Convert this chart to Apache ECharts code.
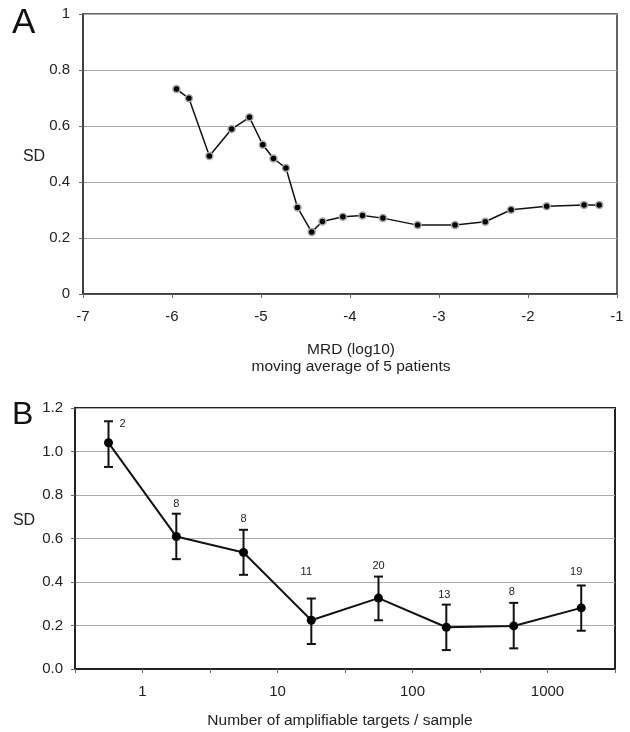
<!DOCTYPE html>
<html>
<head>
<meta charset="utf-8">
<script src="https://cdn.jsdelivr.net/npm/echarts@6/dist/echarts.min.js"></script>
<style>
html,body{margin:0;padding:0;background:#fff;}
#c{width:630px;height:732px;}
</style>
</head>
<body>
<div id="c"></div>
<script>
// ---- Panel A data: MRD (log10), moving average of 5 patients ----
var mrdLog = [-5.95,-5.81,-5.58,-5.33,-5.13,-4.98,-4.86,-4.72,-4.59,-4.43,-4.31,-4.08,-3.86,-3.63,-3.24,-2.82,-2.48,-2.19,-1.79,-1.37,-1.20];
var sdA    = [0.732,0.699,0.493,0.589,0.631,0.533,0.484,0.450,0.309,0.221,0.259,0.276,0.280,0.271,0.246,0.246,0.258,0.301,0.313,0.318,0.318];
var xTicksA = [-7,-6,-5,-4,-3,-2,-1];

// ---- Panel B data: number of amplifiable targets / sample ----
var targets = [0.56,1.78,5.6,17.8,56,178,562,1778];
var sdB     = [1.040,0.609,0.536,0.224,0.326,0.192,0.198,0.281];
var errHigh = [1.139,0.714,0.640,0.324,0.425,0.296,0.304,0.384];
var errLow  = [0.929,0.505,0.433,0.115,0.224,0.087,0.095,0.176];
var nCount  = [2,8,8,11,20,13,8,19];
var xTickLabelsB = ['1','10','100','1000'];

// ---- styling (label offsets in px) ----
var nLabelOffset = [[14,3],[0,-10],[0,-11],[-5,-27],[0,-11],[-2,-10],[-2,-11],[-5,-14]];

var FONT = 'Liberation Sans, Arial, sans-serif';
var TXT = '#222';

var dataA = mrdLog.map(function(x,i){return [x, sdA[i]];});
var dataB = targets.map(function(t,i){return [Math.log10(t), sdB[i]];});
var errB = targets.map(function(t,i){return [Math.log10(t), errLow[i], errHigh[i], nCount[i], i];});

var chart = echarts.init(document.getElementById('c'));
chart.setOption({
  animation:false,
  backgroundColor:'#fff',
  textStyle:{fontFamily:FONT},
  grid:[
    {left:83, top:14, width:534, height:280, show:true, borderColor:'#333', borderWidth:1.5, backgroundColor:'transparent'},
    {left:75, top:408, width:540, height:261, show:true, borderColor:'#222', borderWidth:2, backgroundColor:'transparent'}
  ],
  xAxis:[
    {type:'value', gridIndex:0, min:-7, max:-1, interval:1,
     axisLine:{show:true, onZero:false, lineStyle:{color:'#333', width:1.5}},
     axisTick:{show:true, length:4, lineStyle:{color:'#666'}},
     splitLine:{show:false},
     axisLabel:{fontSize:15, color:TXT, margin:15, fontFamily:FONT,
       formatter:function(v){return xTicksA.indexOf(v)>=0 ? String(v) : '';}}
    },
    {type:'value', gridIndex:1, min:-0.5, max:3.5, interval:0.5,
     axisLine:{show:true, onZero:false, lineStyle:{color:'#222', width:2}},
     axisTick:{show:true, length:4, lineStyle:{color:'#666'}},
     splitLine:{show:false},
     axisLabel:{fontSize:15, color:TXT, margin:15, fontFamily:FONT, showMinLabel:true, showMaxLabel:true,
       formatter:function(v){
         var r = Math.round(v);
         if (Math.abs(v-r) < 1e-6 && r>=0 && r<xTickLabelsB.length) return xTickLabelsB[r];
         return '';
       }}
    }
  ],
  yAxis:[
    {type:'value', gridIndex:0, min:0, max:1, interval:0.2,
     axisLine:{show:true, onZero:false, lineStyle:{color:'#333', width:1.5}},
     axisTick:{show:true, length:4, lineStyle:{color:'#666'}},
     splitLine:{show:true, lineStyle:{color:'#aaa', width:1}},
     axisLabel:{fontSize:15, color:TXT, margin:13, fontFamily:FONT}
    },
    {type:'value', gridIndex:1, min:0, max:1.2, interval:0.2,
     axisLine:{show:true, onZero:false, lineStyle:{color:'#222', width:2}},
     axisTick:{show:true, length:4, lineStyle:{color:'#666'}},
     splitLine:{show:true, lineStyle:{color:'#aaa', width:1}},
     axisLabel:{fontSize:15, color:TXT, margin:12, fontFamily:FONT,
       formatter:function(v){return v.toFixed(1);}}
    }
  ],
  series:[
    {type:'line', xAxisIndex:0, yAxisIndex:0, data:dataA,
     symbol:'circle', symbolSize:7,
     lineStyle:{color:'#111', width:1.5},
     itemStyle:{color:'#000', borderColor:'#aaa', borderWidth:1.5},
     z:5},
    {type:'custom', xAxisIndex:1, yAxisIndex:1, data:errB, z:4,
     renderItem:function(params, api){
       var x = api.value(0);
       var lo = api.coord([x, api.value(1)]);
       var hi = api.coord([x, api.value(2)]);
       var idx = api.value(4);
       var cap = 4.5;
       var st = {stroke:'#111', lineWidth:2};
       var off = nLabelOffset[idx];
       return {type:'group', children:[
         {type:'line', shape:{x1:hi[0], y1:hi[1], x2:lo[0], y2:lo[1]}, style:st},
         {type:'line', shape:{x1:hi[0]-cap, y1:hi[1], x2:hi[0]+cap, y2:hi[1]}, style:st},
         {type:'line', shape:{x1:lo[0]-cap, y1:lo[1], x2:lo[0]+cap, y2:lo[1]}, style:st},
         {type:'text', x:hi[0]+off[0], y:hi[1]+off[1],
          style:{text:String(api.value(3)), fill:TXT, font:'11px '+FONT, textAlign:'center', textVerticalAlign:'middle'}}
       ]};
     }},
    {type:'line', xAxisIndex:1, yAxisIndex:1, data:dataB,
     symbol:'circle', symbolSize:9,
     lineStyle:{color:'#111', width:2},
     itemStyle:{color:'#000'},
     z:6}
  ],
  graphic:[
    {type:'text', left:12, top:6, style:{text:'A', font:'35px '+FONT, fill:'#111'}},
    {type:'text', left:12, top:399, style:{text:'B', font:'32px '+FONT, fill:'#111'}},
    {type:'text', x:34, y:157, style:{text:'SD', font:'16px '+FONT, fill:TXT, textAlign:'center', textVerticalAlign:'middle'}},
    {type:'text', x:24, y:521, style:{text:'SD', font:'16px '+FONT, fill:TXT, textAlign:'center', textVerticalAlign:'middle'}},
    {type:'text', x:351, y:350, style:{text:'MRD (log10)', font:'15.5px '+FONT, fill:TXT, textAlign:'center', textVerticalAlign:'middle'}},
    {type:'text', x:351, y:367, style:{text:'moving average of 5 patients', font:'15.5px '+FONT, fill:TXT, textAlign:'center', textVerticalAlign:'middle'}},
    {type:'text', x:340, y:721, style:{text:'Number of amplifiable targets / sample', font:'15.5px '+FONT, fill:TXT, textAlign:'center', textVerticalAlign:'middle'}}
  ]
});
</script>
</body>
</html>
